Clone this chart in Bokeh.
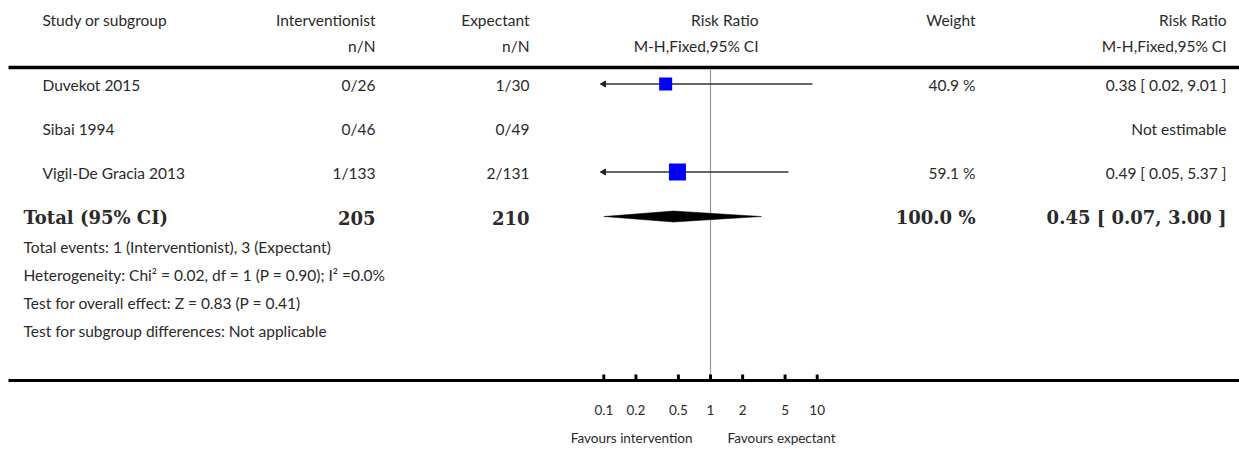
import math
from bokeh.plotting import figure
from bokeh.models import Range1d, LogScale
from bokeh.core.properties import value
from bokeh.embed import file_html
from bokeh.resources import INLINE

# ---------------- data ----------------
studies = ["Duvekot 2015", "Sibai 1994", "Vigil-De Gracia 2013"]
int_events = [0, 0, 1]
int_total = [26, 46, 133]
exp_events = [1, 0, 2]
exp_total = [30, 49, 131]
rr_est = [0.38, None, 0.49]
rr_lo = [0.02, None, 0.05]
rr_hi = [9.01, None, 5.37]
weights = [40.9, None, 59.1]

total_int = 205
total_exp = 210
total_rr = 0.45
total_lo = 0.07
total_hi = 3.00
total_weight = 100.0

footer_lines = [
    "Total events: 1 (Interventionist), 3 (Expectant)",
    "Heterogeneity: Chi\u00b2 = 0.02, df = 1 (P = 0.90); I\u00b2 =0.0%",
    "Test for overall effect: Z = 0.83 (P = 0.41)",
    "Test for subgroup differences: Not applicable",
]
tick_values = [0.1, 0.2, 0.5, 1, 2, 5, 10]
tick_labels = ["0.1", "0.2", "0.5", "1", "2", "5", "10"]
favours_left = "Favours intervention"
favours_right = "Favours expectant"

# ---------------- layout ----------------
W, H = 1239, 449
AX_MIN, AX_MAX = 0.1, 10          # visible range of the forest plot
ONE_PX = 710.0                    # pixel where RR = 1
PX_PER_DEC = 106.7                # pixels per decade
rr_start = 10 ** ((0 - ONE_PX) / PX_PER_DEC)
rr_end = 10 ** ((W - ONE_PX) / PX_PER_DEC)

SANS = value("Lato")
SERIF = value("DejaVu Serif")
TXT = "#2a2a2a"
BODY = "15.5px"
SMALL = "13.5px"
BIG = "18px"

x_study, x_total = 42, 23
x_int, x_exp = 375, 529
x_rrhead, x_weight, x_rrcol = 758, 975, 1226

y_head1, y_head2, y_hline = 19, 45, 67
row_y = [84, 128, 172]
y_total = 216
footer_y = [246, 274, 302, 330]
y_axis_line = 380
y_ticklab, y_favours = 409, 437

p = figure(width=W, height=H, output_backend="svg", toolbar_location=None,
           x_range=Range1d(0, W), y_range=Range1d(H, 0),
           x_axis_location=None, y_axis_location=None,
           min_border=0, outline_line_color=None)
p.grid.visible = False
p.extra_x_ranges = {"rr": Range1d(rr_start, rr_end)}
p.extra_x_scales = {"rr": LogScale()}


def txt(x, y, t, align="left", font=SANS, size=BODY, style="normal", rng=None, xoff=0):
    kw = dict(x=x, y=y, text=t, text_font=font, text_font_size=size,
              text_align=align, text_baseline="middle", text_color=TXT,
              text_font_style=style, x_offset=xoff)
    if rng:
        kw["x_range_name"] = rng
    p.text(**kw)


# headers
txt([x_study], [y_head1], ["Study or subgroup"])
txt([x_int, x_exp, x_rrhead, x_weight, x_rrcol], [y_head1] * 5,
    ["Interventionist", "Expectant", "Risk Ratio", "Weight", "Risk Ratio"], align="right")
txt([x_int, x_exp, x_rrhead, x_rrcol], [y_head2] * 4,
    ["n/N", "n/N", "M-H,Fixed,95% CI", "M-H,Fixed,95% CI"], align="right")
p.segment(x0=[8], x1=[W], y0=[y_hline], y1=[y_hline], line_color="black", line_width=3.5)

# study rows
txt([x_study] * 3, row_y, studies)
txt([x_int] * 3, row_y, [f"{e}/{n}" for e, n in zip(int_events, int_total)], align="right")
txt([x_exp] * 3, row_y, [f"{e}/{n}" for e, n in zip(exp_events, exp_total)], align="right")
wl, wy, rl = [], [], []
for i in range(3):
    if weights[i] is None:
        rl.append("Not estimable")
    else:
        wl.append(f"{weights[i]:.1f} %")
        wy.append(row_y[i])
        rl.append(f"{rr_est[i]:.2f} [ {rr_lo[i]:.2f}, {rr_hi[i]:.2f} ]")
txt([x_weight] * len(wl), wy, wl, align="right")
txt([x_rrcol] * 3, row_y, rl, align="right")

# null line
p.segment(x0=[1], x1=[1], y0=[y_hline + 2], y1=[y_axis_line], x_range_name="rr",
          line_color="#9a9a9a", line_width=1.2)

# CI lines, arrows, boxes
box_px = {40.9: 13, 59.1: 17}
for i in range(3):
    if rr_est[i] is None:
        continue
    y = row_y[i] - 0.5
    lo = max(rr_lo[i], AX_MIN)
    hi = min(rr_hi[i], AX_MAX)
    p.segment(x0=[lo], x1=[hi], y0=[y], y1=[y], x_range_name="rr",
              line_color="#333333", line_width=1.6)
    if rr_lo[i] < AX_MIN:
        p.scatter(x=[AX_MIN], y=[y], marker="triangle", angle=math.pi / 2, size=6,
                  x_range_name="rr", fill_color="#222222", line_color="#222222")
    if rr_hi[i] > AX_MAX:
        p.scatter(x=[AX_MAX], y=[y], marker="triangle", angle=-math.pi / 2, size=6,
                  x_range_name="rr", fill_color="#222222", line_color="#222222")
    s = box_px[weights[i]]
    p.scatter(x=[rr_est[i]], y=[y], marker="square", size=s, x_range_name="rr",
              fill_color="#0000ff", line_color="#0000ff", line_width=0)
    p.segment(x0=[rr_est[i]], x1=[rr_est[i]], y0=[y - 3], y1=[y + 3], x_range_name="rr",
              line_color="#222266", line_width=1)

# total row
txt([x_total], [y_total + 1], ["Total (95% CI)"], font=SERIF, size=BIG, style="bold")
txt([x_int, x_exp], [y_total + 1] * 2, [str(total_int), str(total_exp)], align="right",
    font=SERIF, size=BIG, style="bold")
txt([x_weight, x_rrcol], [y_total + 1] * 2,
    [f"{total_weight:.1f} %", f"{total_rr:.2f} [ {total_lo:.2f}, {total_hi:.2f} ]"],
    align="right", font=SERIF, size=BIG, style="bold")
d_lo = max(total_lo, AX_MIN)
d_hi = min(total_hi, AX_MAX)
p.patch(x=[d_lo, total_rr, d_hi, total_rr], y=[y_total, y_total - 5.5, y_total, y_total + 5.5],
        x_range_name="rr", fill_color="black", line_color="black", line_width=0.5)

# footer
txt([x_total] * 4, footer_y, footer_lines)

# bottom axis
p.segment(x0=[8], x1=[W], y0=[y_axis_line], y1=[y_axis_line], line_color="black", line_width=3)
p.segment(x0=tick_values, x1=tick_values, y0=[y_axis_line - 6] * 7, y1=[y_axis_line] * 7,
          x_range_name="rr", line_color="black", line_width=3)
txt(tick_values, [y_ticklab] * 7, tick_labels, align="center", size=SMALL, rng="rr")
txt([1], [y_favours], [favours_left], align="right", size=SMALL, rng="rr", xoff=-18)
txt([1], [y_favours], [favours_right], align="left", size=SMALL, rng="rr", xoff=17)

open("out.html", "w").write(file_html(p, INLINE))
